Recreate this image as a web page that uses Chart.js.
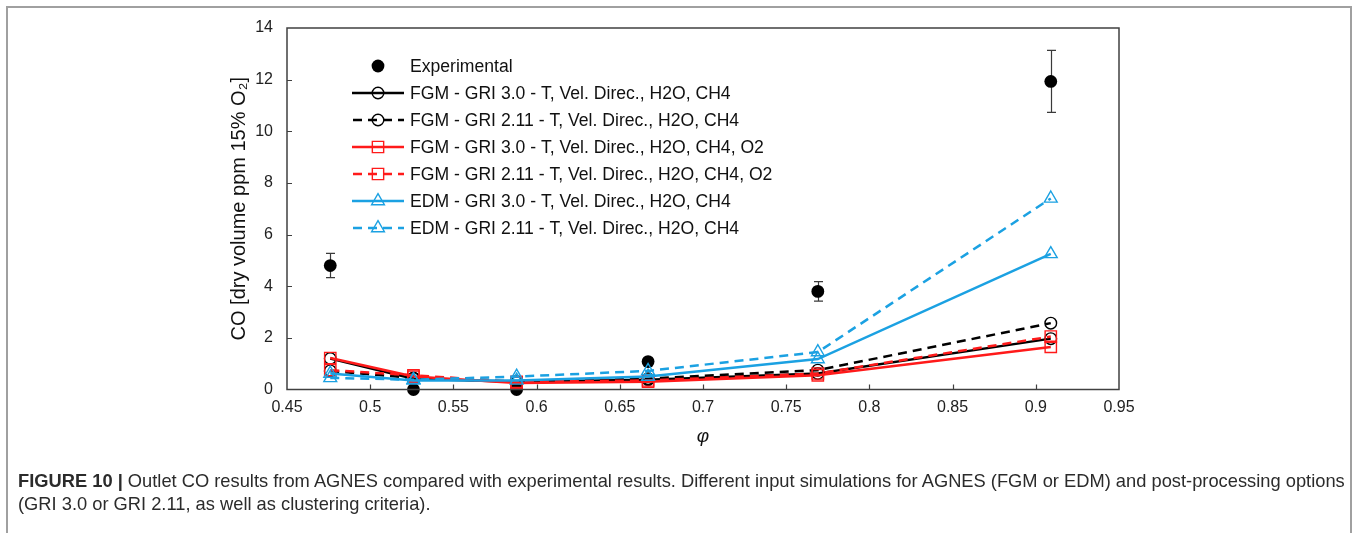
<!DOCTYPE html>
<html>
<head>
<meta charset="utf-8">
<script src="https://cdn.jsdelivr.net/npm/chart.js@4.4.1/dist/chart.umd.min.js"></script>
<style>
html,body{margin:0;padding:0;background:#fff;width:1357px;height:533px;overflow:hidden;font-family:"Liberation Sans",Arial,sans-serif;}
#frame{position:absolute;left:6px;top:6px;width:1342px;height:600px;border:2px solid #a0a0a0;box-sizing:content-box;}
#wrap{position:absolute;left:0;top:0;width:1357px;height:533px;}
.cap{position:absolute;left:18px;font-size:18px;color:#2b2b2b;white-space:nowrap;line-height:22px;}
</style>
</head>
<body>
<div id="frame"></div>
<div id="wrap"><canvas id="c" width="1357" height="533"></canvas></div>
<div class="cap" id="cap1" style="top:470px"><b>FIGURE 10 |</b> Outlet CO results from AGNES compared with experimental results. Different input simulations for AGNES (FGM or EDM) and post-processing options</div>
<div class="cap" id="cap2" style="top:493px">(GRI 3.0 or GRI 2.11, as well as clustering criteria).</div>
<script>
// ---- data ----
const phi = [0.476, 0.526, 0.588, 0.667, 0.769, 0.909];
const experimental = [4.8, 0.0, 0.0, 1.08, 3.8, 11.93];
const experimentalErr = [0.47, 0, 0, 0, 0.38, 1.2];
const fgmGri30 = [1.2, 0.42, 0.3, 0.38, 0.62, 1.97];
const fgmGri211 = [0.72, 0.45, 0.3, 0.42, 0.75, 2.57];
const fgmGri30O2 = [1.22, 0.5, 0.25, 0.3, 0.55, 1.65];
const fgmGri211O2 = [0.75, 0.55, 0.3, 0.35, 0.62, 2.05];
const edmGri30 = [0.62, 0.35, 0.35, 0.5, 1.18, 5.25];
const edmGri211 = [0.45, 0.38, 0.5, 0.72, 1.45, 7.4];
const seriesNames = [
  'Experimental',
  'FGM - GRI 3.0 - T, Vel. Direc., H2O, CH4',
  'FGM - GRI 2.11 - T, Vel. Direc., H2O, CH4',
  'FGM - GRI 3.0 - T, Vel. Direc., H2O, CH4, O2',
  'FGM - GRI 2.11 - T, Vel. Direc., H2O, CH4, O2',
  'EDM - GRI 3.0 - T, Vel. Direc., H2O, CH4',
  'EDM - GRI 2.11 - T, Vel. Direc., H2O, CH4'
];
const xTickValues = [0.45, 0.5, 0.55, 0.6, 0.65, 0.7, 0.75, 0.8, 0.85, 0.9, 0.95];
const xTickLabels = ['0.45', '0.5', '0.55', '0.6', '0.65', '0.7', '0.75', '0.8', '0.85', '0.9', '0.95'];
const yTickValues = [0, 2, 4, 6, 8, 10, 12, 14];
const yTickLabels = ['0', '2', '4', '6', '8', '10', '12', '14'];
const xTitle = 'φ';
const yTitle = 'CO [dry volume ppm 15% O₂]';

// ---- styles ----
const BLACK = '#000000', RED = '#ff1a1a', CYAN = '#1ba1e2';
const DASH = [9, 6];
const FONT = '"Liberation Sans", Arial, sans-serif';

function pts(vals) { return phi.map((x, i) => ({x: x, y: vals[i]})); }
function simSeries(label, vals, color, dashed, style, radius, order) {
  return {
    label: label, data: pts(vals), showLine: true, clip: false,
    borderColor: color, borderWidth: 2.5, borderDash: dashed ? DASH : [],
    pointStyle: style, pointRadius: radius, pointBorderWidth: 1.4,
    pointBorderColor: color, pointBackgroundColor: 'rgba(0,0,0,0)',
    pointHoverRadius: radius, order: order, tension: 0
  };
}
const datasets = [
  {label: seriesNames[0], data: pts(experimental), showLine: false, clip: false, pointStyle: 'circle', pointRadius: 6.4,
   pointBackgroundColor: BLACK, pointBorderColor: BLACK, pointBorderWidth: 0, order: 6},
  simSeries(seriesNames[1], fgmGri30, BLACK, false, 'circle', 5.8, 5),
  simSeries(seriesNames[2], fgmGri211, BLACK, true, 'circle', 5.8, 4),
  simSeries(seriesNames[3], fgmGri30O2, RED, false, 'rect', 8, 3),
  simSeries(seriesNames[4], fgmGri211O2, RED, true, 'rect', 8, 2),
  simSeries(seriesNames[5], edmGri30, CYAN, false, 'triangle', 7.4, 1),
  simSeries(seriesNames[6], edmGri211, CYAN, true, 'triangle', 7.4, 0)
];

function drawMarker(ctx, style, r, x, y) {
  ctx.beginPath();
  if (style === 'circle') {
    ctx.arc(x, y, r, 0, Math.PI * 2);
  } else if (style === 'rect') {
    const s = Math.SQRT1_2 * r;
    ctx.rect(x - s, y - s, 2 * s, 2 * s);
  } else if (style === 'triangle') {
    let a = 0;
    ctx.moveTo(x + Math.sin(a) * r, y - Math.cos(a) * r);
    a += 2 * Math.PI / 3; ctx.lineTo(x + Math.sin(a) * r, y - Math.cos(a) * r);
    a += 2 * Math.PI / 3; ctx.lineTo(x + Math.sin(a) * r, y - Math.cos(a) * r);
    ctx.closePath();
  }
}

const decorPlugin = {
  id: 'decor',
  beforeDatasetsDraw(chart) {
    const {ctx, scales: {x, y}} = chart;
    ctx.save();
    ctx.strokeStyle = '#3a3a3a'; ctx.lineWidth = 1.2; ctx.setLineDash([]);
    phi.forEach((p, i) => {
      const e = experimentalErr[i];
      if (!e) return;
      const px = Math.round(x.getPixelForValue(p)) + 0.5;
      const y1 = y.getPixelForValue(experimental[i] + e), y2 = y.getPixelForValue(experimental[i] - e);
      ctx.beginPath();
      ctx.moveTo(px, y1); ctx.lineTo(px, y2);
      ctx.moveTo(px - 4.5, y1); ctx.lineTo(px + 4.5, y1);
      ctx.moveTo(px - 4.5, y2); ctx.lineTo(px + 4.5, y2);
      ctx.stroke();
    });
    ctx.restore();
  },
  afterDatasetsDraw(chart) {
    const {ctx, chartArea: a, scales: {x, y}} = chart;
    ctx.save();
    ctx.strokeStyle = '#404040'; ctx.lineWidth = 1.5; ctx.setLineDash([]);
    ctx.strokeRect(a.left, a.top, a.right - a.left, a.bottom - a.top);
    ctx.lineWidth = 1.2;
    ctx.beginPath();
    xTickValues.forEach(v => {
      const px = Math.round(x.getPixelForValue(v)) + 0.5;
      if (px <= a.left + 1 || px >= a.right - 1) return;
      ctx.moveTo(px, a.bottom); ctx.lineTo(px, a.bottom - 5);
    });
    yTickValues.forEach(v => {
      const py = Math.round(y.getPixelForValue(v)) + 0.5;
      if (py <= a.top + 1 || py >= a.bottom - 1) return;
      ctx.moveTo(a.left, py); ctx.lineTo(a.left + 5, py);
    });
    ctx.stroke();
    // legend
    const lx0 = 352, lx1 = 404, mx = 378, tx = 410, ly0 = 66, dy = 27;
    ctx.font = '17.6px ' + FONT; ctx.textBaseline = 'middle'; ctx.textAlign = 'left';
    datasets.forEach((ds, i) => {
      const ly = ly0 + i * dy;
      if (ds.showLine) {
        ctx.strokeStyle = ds.borderColor; ctx.lineWidth = 2.5;
        ctx.setLineDash(ds.borderDash.length ? ds.borderDash : []);
        ctx.lineDashOffset = ds.borderDash.length ? -1 : 0;
        ctx.beginPath(); ctx.moveTo(lx0, ly); ctx.lineTo(lx1, ly); ctx.stroke();
        ctx.setLineDash([]);
        ctx.lineWidth = ds.pointBorderWidth; ctx.strokeStyle = ds.pointBorderColor;
        drawMarker(ctx, ds.pointStyle, ds.pointRadius, mx, ly);
        ctx.stroke();
      } else {
        ctx.fillStyle = ds.pointBackgroundColor;
        drawMarker(ctx, 'circle', ds.pointRadius, mx, ly);
        ctx.fill();
      }
      ctx.fillStyle = '#111';
      ctx.fillText(ds.label, tx, ly + 1);
    });
    ctx.restore();
  }
};

new Chart(document.getElementById('c'), {
  type: 'scatter',
  data: {datasets: datasets},
  plugins: [decorPlugin],
  options: {
    responsive: false, animation: false, devicePixelRatio: 1,
    layout: {padding: {left: 0, top: 28, right: 238, bottom: 0}},
    plugins: {legend: {display: false}, tooltip: {enabled: false}},
    elements: {line: {tension: 0}},
    scales: {
      x: {
        type: 'linear', min: 0.45, max: 0.95,
        afterBuildTicks: s => { s.ticks = xTickValues.map(v => ({value: v})); },
        afterFit: s => { s.height = 533 - 389.5; },
        grid: {display: false, drawTicks: false}, border: {display: false},
        ticks: {callback: (v, i) => xTickLabels[i], padding: 8, color: '#222', font: {family: FONT, size: 16}, maxRotation: 0, autoSkip: false},
        title: {display: true, text: xTitle, color: '#111', font: {family: FONT, size: 19, style: 'italic'}, padding: {top: 0, bottom: 85}}
      },
      y: {
        type: 'linear', min: 0, max: 14,
        afterBuildTicks: s => { s.ticks = yTickValues.map(v => ({value: v})); },
        afterFit: s => { s.width = 287; },
        grid: {display: false, drawTicks: false}, border: {display: false},
        ticks: {callback: (v, i) => yTickLabels[i], padding: 14, color: '#222', font: {family: FONT, size: 16}, autoSkip: false},
        title: {display: true, text: yTitle, color: '#111', font: {family: FONT, size: 20}, padding: {top: 227, bottom: 0}}
      }
    }
  }
});

// fit caption width to the reference line length
(function fitCaption() {
  const c1 = document.getElementById('cap1'), c2 = document.getElementById('cap2');
  const w = c1.getBoundingClientRect().width;
  const fs = 18 * 1327 / w;
  c1.style.fontSize = fs + 'px';
  c2.style.fontSize = fs + 'px';
})();
</script>
</body>
</html>
